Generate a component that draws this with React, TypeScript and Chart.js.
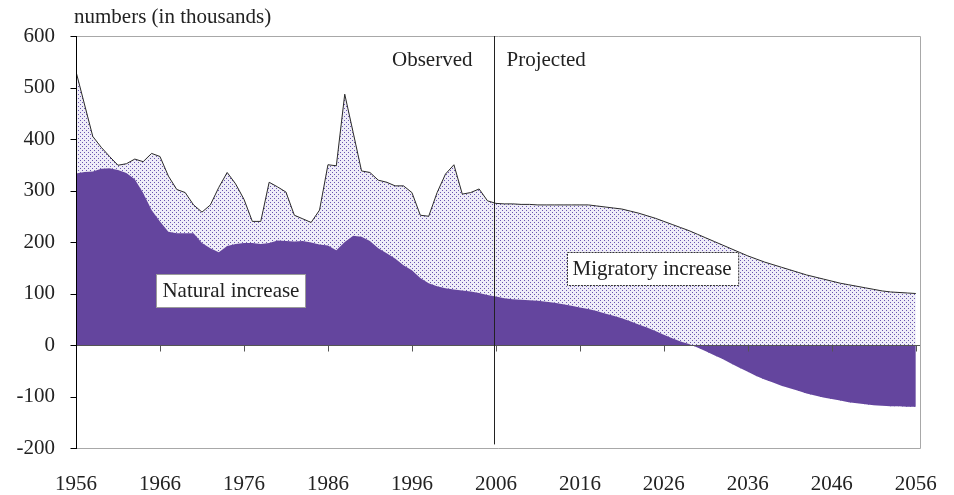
import React, { useEffect, useRef } from "react";
import { Chart, registerables } from "chart.js";

Chart.register(...registerables);

const FIRST_YEAR = 1956;

// Natural increase (thousands), 1956..2056
const naturalIncrease = [
  333, 336, 337, 342, 343, 340, 334, 322, 295, 262,
  240, 220, 217, 217, 217, 198, 188, 180, 192, 196,
  198, 198, 196, 198, 203, 202, 201, 202, 199, 195,
  193, 184, 200, 212, 210, 202, 188, 178, 168, 155,
  145, 130, 120, 114, 110, 108, 106, 104, 101, 97,
  94, 91, 89, 88, 87, 86, 84, 82, 79, 76,
  73, 70, 66, 61, 57, 52, 46, 40, 34, 27,
  20, 13, 7, 2, -5, -12, -20, -27, -36, -44,
  -52, -60, -67, -73, -79, -84, -89, -94, -98, -102,
  -105, -108, -111, -113, -115, -117, -118, -119, -119, -120,
  -120,
];

// Total increase = natural + migratory (thousands), 1956..2056
const totalIncrease = [
  531, 468, 405, 384, 366, 349, 352, 361, 356, 372,
  366, 328, 302, 296, 272, 258, 272, 306, 335, 313,
  283, 240, 240, 316, 307, 297, 252, 245, 238, 262,
  350, 348, 487, 413, 338, 335, 320, 316, 309, 309,
  296, 252, 250, 296, 332, 350, 293, 296, 303, 280,
  275, 274, 274, 273, 273, 272, 272, 272, 272, 272,
  272, 272, 270, 268, 266, 264, 260, 256, 251, 246,
  240, 234, 228, 222, 215, 208, 201, 194, 187, 180,
  173, 167, 161, 156, 151, 146, 141, 136, 132, 128,
  124, 120, 117, 114, 111, 108, 105, 103, 102, 101,
  100,
];

const years = naturalIncrease.map((_, i) => FIRST_YEAR + i);

const yTickValues = [600, 500, 400, 300, 200, 100, 0, -100, -200];
const yTickLabels = ["600", "500", "400", "300", "200", "100", "0", "-100", "-200"];
const xTickValues = [1956, 1966, 1976, 1986, 1996, 2006, 2016, 2026, 2036, 2046, 2056];
const xTickLabels = ["1956", "1966", "1976", "1986", "1996", "2006", "2016", "2026", "2036", "2046", "2056"];

const SPLIT_YEAR = 2006;
const TITLE = "numbers (in thousands)";
const LABEL_OBSERVED = "Observed";
const LABEL_PROJECTED = "Projected";
const LABEL_NATURAL = "Natural increase";
const LABEL_MIGRATORY = "Migratory increase";

const FONT = '21px "Liberation Serif", "Times New Roman", serif';
const PURPLE = "#64459e";
const TEXT = "#222222";

function makePattern(): CanvasPattern | string {
  const c = document.createElement("canvas");
  c.width = 4;
  c.height = 4;
  const g = c.getContext("2d");
  if (!g) return "#dcd6ee";
  g.fillStyle = "#efedf8";
  g.fillRect(0, 0, 4, 4);
  g.fillStyle = "#6a55b0";
  g.fillRect(0, 0, 1, 1);
  g.fillRect(2, 2, 1, 1);
  const p = g.createPattern(c, "repeat");
  return p || "#dcd6ee";
}

const decorPlugin = {
  id: "decor",
  beforeDraw(chart: any) {
    const ctx = chart.ctx;
    ctx.save();
    ctx.fillStyle = "#ffffff";
    ctx.fillRect(0, 0, chart.width, chart.height);
    ctx.restore();
  },
  afterDatasetsDraw(chart: any) {
    const { ctx, chartArea: a, scales } = chart;
    const x = scales.x;
    const y = scales.y;
    ctx.save();
    ctx.lineWidth = 1;

    // frame (top, right, bottom)
    ctx.strokeStyle = "#a8a8a8";
    ctx.beginPath();
    ctx.moveTo(a.left, a.top + 0.5);
    ctx.lineTo(a.right + 0.5, a.top + 0.5);
    ctx.lineTo(a.right + 0.5, a.bottom + 0.5);
    ctx.lineTo(a.left, a.bottom + 0.5);
    ctx.stroke();

    // zero line with ticks
    const y0 = Math.round(y.getPixelForValue(0)) + 0.5;
    ctx.strokeStyle = "#555555";
    ctx.beginPath();
    ctx.moveTo(a.left, y0);
    ctx.lineTo(a.right, y0);
    for (const v of xTickValues) {
      if (v === FIRST_YEAR) continue;
      const px = Math.round(x.getPixelForValue(v)) + 0.5;
      ctx.moveTo(px, y0);
      ctx.lineTo(px, y0 + 6);
    }
    ctx.stroke();

    // left axis
    const lx = a.left + 0.5;
    ctx.strokeStyle = "#000000";
    ctx.beginPath();
    ctx.moveTo(lx, a.top);
    ctx.lineTo(lx, a.bottom + 1);
    for (const v of yTickValues) {
      const py = Math.round(y.getPixelForValue(v)) + 0.5;
      ctx.moveTo(lx - 6, py);
      ctx.lineTo(lx, py);
    }
    ctx.stroke();

    // split line
    const sx = Math.round(x.getPixelForValue(SPLIT_YEAR)) - 1.5;
    ctx.strokeStyle = "#222222";
    ctx.beginPath();
    ctx.moveTo(sx, a.top);
    ctx.lineTo(sx, y.getPixelForValue(-193));
    ctx.stroke();

    // text
    ctx.font = FONT;
    ctx.fillStyle = TEXT;
    ctx.textBaseline = "middle";

    ctx.textAlign = "right";
    yTickValues.forEach((v, i) => {
      ctx.fillText(yTickLabels[i], a.left - 21, y.getPixelForValue(v));
    });

    ctx.textAlign = "center";
    xTickValues.forEach((v, i) => {
      ctx.fillText(xTickLabels[i], x.getPixelForValue(v), a.bottom + 36);
    });

    ctx.textAlign = "left";
    ctx.fillText(TITLE, a.left - 2, 17);

    ctx.textAlign = "right";
    ctx.fillText(LABEL_OBSERVED, sx - 22, a.top + 24);
    ctx.textAlign = "left";
    ctx.fillText(LABEL_PROJECTED, sx + 12, a.top + 24);

    const box = (label: string, cxVal: number, cyVal: number, dashed: boolean) => {
      const cx = x.getPixelForValue(cxVal);
      const cy = y.getPixelForValue(cyVal);
      const w = ctx.measureText(label).width + 12;
      const h = 33;
      const l = Math.round(cx - w / 2) + 0.5;
      const t = Math.round(cy - h / 2) + 0.5;
      ctx.fillStyle = "#ffffff";
      ctx.fillRect(l, t, w, h);
      ctx.strokeStyle = dashed ? "#333333" : "#9a9a9a";
      ctx.setLineDash(dashed ? [2, 1] : []);
      ctx.strokeRect(l, t, w, h);
      ctx.setLineDash([]);
      ctx.fillStyle = TEXT;
      ctx.textAlign = "center";
      ctx.fillText(label, cx, cy + 1);
    };
    box(LABEL_NATURAL, 1974.45, 106, false);
    box(LABEL_MIGRATORY, 2024.6, 149.5, true);

    ctx.restore();
  },
};

export default function App() {
  const ref = useRef<HTMLCanvasElement | null>(null);

  useEffect(() => {
    if (!ref.current) return;
    const pattern = makePattern();
    const chart = new Chart(ref.current, {
      type: "line",
      data: {
        datasets: [
          {
            label: LABEL_NATURAL,
            data: years.map((yr, i) => ({ x: yr, y: naturalIncrease[i] })),
            backgroundColor: PURPLE,
            borderColor: PURPLE,
            borderWidth: 0,
            pointRadius: 0,
            fill: "origin",
            tension: 0,
          },
          {
            label: LABEL_MIGRATORY,
            data: years.map((yr, i) => ({ x: yr, y: totalIncrease[i] })),
            backgroundColor: pattern as any,
            borderColor: "#2a2a2a",
            borderWidth: 1,
            pointRadius: 0,
            fill: "-1",
            tension: 0,
          },
        ],
      },
      options: {
        responsive: false,
        maintainAspectRatio: false,
        animation: false,
        layout: { padding: { left: 76, top: 36, right: 34, bottom: 47 } },
        scales: {
          x: { type: "linear", min: FIRST_YEAR, max: 2056.5, display: false },
          y: { type: "linear", min: -200, max: 600, display: false },
        },
        plugins: {
          legend: { display: false },
          tooltip: { enabled: false },
        },
        events: [],
      },
      plugins: [decorPlugin],
    });
    return () => chart.destroy();
  }, []);

  return (
    <div style={{ position: "absolute", left: 0, top: 0, width: 954, height: 495 }}>
      <canvas ref={ref} width={954} height={495} style={{ width: 954, height: 495, display: "block" }} />
    </div>
  );
}
